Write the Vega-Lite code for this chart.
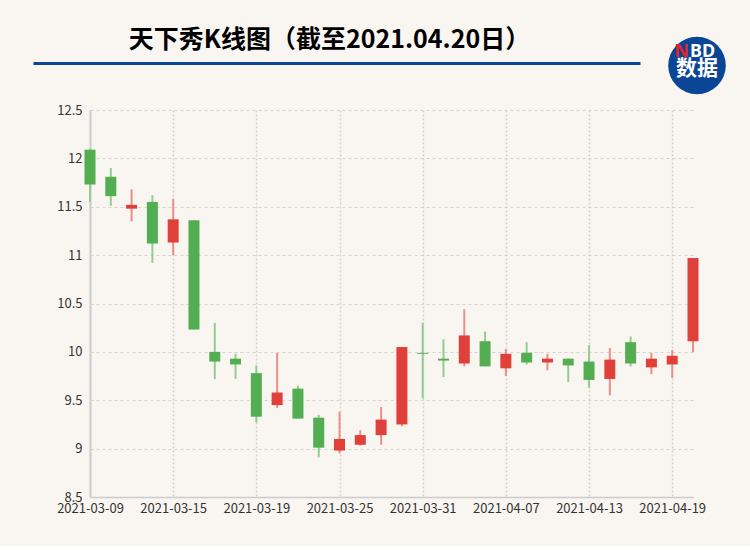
{
  "$schema": "https://vega.github.io/schema/vega-lite/v6.json",
  "background": "#f9f6f1",
  "padding": {"left": 33, "top": 17, "right": 21, "bottom": 31},
  "config": {"view": {"stroke": null}, "font": "Noto Sans CJK SC"},
  "spacing": 93,
  "bounds": "flush",
  "vconcat": [
    {
      "spacing": 24.5,
      "bounds": "flush",
      "hconcat": [
        {
          "width": 550,
          "height": 46,
          "data": {"values": [{}]},
          "mark": {"type": "text", "text": "天下秀K线图（截至2021.04.20日）", "fontSize": 25, "fontWeight": "bold", "font": "Noto Sans CJK SC", "color": "#000000", "dx": -7},
          "encoding": {
            "x": {
              "datum": 0.5,
              "type": "quantitative",
              "scale": {"domain": [0, 1], "range": [-57, 550]},
              "axis": {"title": null, "labels": false, "ticks": false, "grid": false, "domainColor": "#0b4596", "domainWidth": 3}
            }
          }
        },
        {
          "width": 65,
          "height": 97,
          "data": {"values": [{}]},
          "layer": [
            {"mark": {"type": "point", "shape": "circle", "filled": true, "size": 3318, "color": "#0b4596", "opacity": 1}},
            {"mark": {"type": "text", "text": "N", "color": "#e5222b", "fontSize": 18, "fontWeight": "bold", "font": "Noto Sans", "align": "right", "dx": -8, "dy": -14}},
            {"mark": {"type": "text", "text": "BD", "color": "#ffffff", "fontSize": 18, "fontWeight": "bold", "font": "Noto Sans", "align": "left", "dx": -7, "dy": -14}},
            {"mark": {"type": "text", "text": "数据", "color": "#ffffff", "fontSize": 21, "fontWeight": "bold", "font": "Noto Sans CJK SC", "dy": 3}}
          ]
        }
      ]
    },
    {
      "width": 603,
      "height": 387,
      "data": {"values": [
        {"date": "2021-03-09", "open": 12.09, "close": 11.73, "low": 11.55, "high": 12.10},
        {"date": "2021-03-10", "open": 11.81, "close": 11.61, "low": 11.51, "high": 11.90},
        {"date": "2021-03-11", "open": 11.48, "close": 11.52, "low": 11.35, "high": 11.68},
        {"date": "2021-03-12", "open": 11.55, "close": 11.12, "low": 10.92, "high": 11.62},
        {"date": "2021-03-15", "open": 11.13, "close": 11.37, "low": 11.00, "high": 11.58},
        {"date": "2021-03-16", "open": 11.36, "close": 10.23, "low": 10.23, "high": 11.36},
        {"date": "2021-03-17", "open": 10.00, "close": 9.90, "low": 9.72, "high": 10.30},
        {"date": "2021-03-18", "open": 9.93, "close": 9.87, "low": 9.72, "high": 9.98},
        {"date": "2021-03-19", "open": 9.78, "close": 9.33, "low": 9.27, "high": 9.86},
        {"date": "2021-03-22", "open": 9.45, "close": 9.58, "low": 9.42, "high": 9.99},
        {"date": "2021-03-23", "open": 9.62, "close": 9.31, "low": 9.31, "high": 9.65},
        {"date": "2021-03-24", "open": 9.32, "close": 9.01, "low": 8.91, "high": 9.35},
        {"date": "2021-03-25", "open": 8.98, "close": 9.10, "low": 8.95, "high": 9.38},
        {"date": "2021-03-26", "open": 9.04, "close": 9.14, "low": 9.03, "high": 9.19},
        {"date": "2021-03-29", "open": 9.14, "close": 9.30, "low": 9.04, "high": 9.43},
        {"date": "2021-03-30", "open": 9.25, "close": 10.05, "low": 9.23, "high": 10.05},
        {"date": "2021-03-31", "open": 9.99, "close": 9.98, "low": 9.52, "high": 10.30},
        {"date": "2021-04-01", "open": 9.93, "close": 9.91, "low": 9.74, "high": 10.13},
        {"date": "2021-04-02", "open": 9.88, "close": 10.17, "low": 9.85, "high": 10.44},
        {"date": "2021-04-06", "open": 10.11, "close": 9.85, "low": 9.85, "high": 10.21},
        {"date": "2021-04-07", "open": 9.83, "close": 9.98, "low": 9.75, "high": 10.03},
        {"date": "2021-04-08", "open": 9.99, "close": 9.89, "low": 9.87, "high": 10.10},
        {"date": "2021-04-09", "open": 9.89, "close": 9.93, "low": 9.81, "high": 9.98},
        {"date": "2021-04-12", "open": 9.93, "close": 9.86, "low": 9.69, "high": 9.93},
        {"date": "2021-04-13", "open": 9.90, "close": 9.71, "low": 9.63, "high": 10.07},
        {"date": "2021-04-14", "open": 9.72, "close": 9.92, "low": 9.55, "high": 10.04},
        {"date": "2021-04-15", "open": 10.10, "close": 9.88, "low": 9.85, "high": 10.16},
        {"date": "2021-04-16", "open": 9.84, "close": 9.93, "low": 9.77, "high": 9.99},
        {"date": "2021-04-19", "open": 9.87, "close": 9.96, "low": 9.73, "high": 10.02},
        {"date": "2021-04-20", "open": 10.11, "close": 10.97, "low": 10.00, "high": 10.97}
      ]},
      "encoding": {
        "x": {
          "field": "date",
          "type": "ordinal",
          "scale": {"type": "point", "padding": 0},
          "axis": {
            "title": null,
            "values": ["2021-03-09", "2021-03-15", "2021-03-19", "2021-03-25", "2021-03-31", "2021-04-07", "2021-04-13", "2021-04-19"],
            "labelAngle": 0,
            "labelFontSize": 13,
            "labelColor": "#333333",
            "labelPadding": 5,
            "ticks": false,
            "domainColor": "#cccccc",
            "domainWidth": 1.5,
            "grid": true,
            "gridDash": [2, 2],
            "gridColor": "#d6d2ce",
            "gridWidth": 1.5
          }
        }
      },
      "layer": [
        {
          "mark": {"type": "rule", "strokeWidth": 2},
          "encoding": {
            "y": {
              "field": "low",
              "type": "quantitative",
              "scale": {"domain": [8.5, 12.5], "nice": false, "zero": false},
              "axis": {
                "title": null,
                "values": [8.5, 9, 9.5, 10, 10.5, 11, 11.5, 12, 12.5],
                "format": "~g",
                "labelFontSize": 13,
                "labelColor": "#333333",
                "labelPadding": 8,
                "ticks": false,
                "minExtent": 57,
                "maxExtent": 57,
                "domainColor": "#cccccc",
                "domainWidth": 2,
                "grid": true,
                "gridDash": [3, 3],
                "gridColor": "#d6d2ce"
              }
            },
            "y2": {"field": "high"},
            "color": {"condition": {"test": "datum.close >= datum.open", "value": "#ec8e88"}, "value": "#92cd8e"}
          }
        },
        {
          "mark": {"type": "bar", "size": 11},
          "encoding": {
            "y": {
              "field": "open",
              "type": "quantitative",
              "scale": {"domain": [8.5, 12.5], "nice": false, "zero": false},
              "axis": {
                "title": null,
                "values": [8.5, 9, 9.5, 10, 10.5, 11, 11.5, 12, 12.5],
                "format": "~g",
                "labelFontSize": 13,
                "labelColor": "#333333",
                "labelPadding": 8,
                "ticks": false,
                "minExtent": 57,
                "maxExtent": 57,
                "domainColor": "#cccccc",
                "domainWidth": 2,
                "grid": true,
                "gridDash": [3, 3],
                "gridColor": "#d6d2ce"
              }
            },
            "y2": {"field": "close"},
            "color": {"condition": {"test": "datum.close >= datum.open", "value": "#e0403a"}, "value": "#52ae50"}
          }
        }
      ]
    }
  ]
}
